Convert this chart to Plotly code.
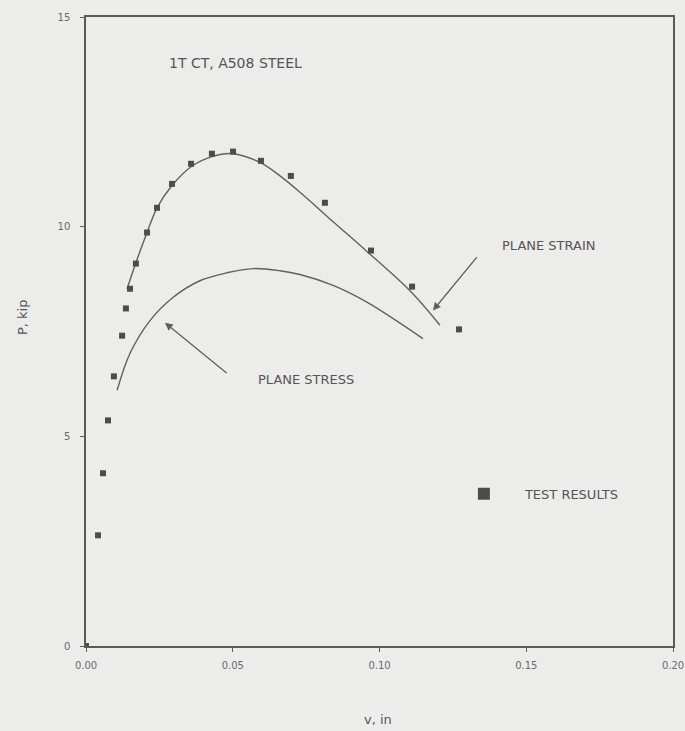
import plotly.graph_objects as go

# Test results: load-line displacement v (in) vs load P (kip)
test_v = [0.0, 0.0041, 0.0058, 0.0075, 0.0095, 0.0123, 0.0136, 0.0150, 0.0170,
          0.0208, 0.0242, 0.0293, 0.0358, 0.0429, 0.0501, 0.0596, 0.0698,
          0.0814, 0.0971, 0.1111, 0.1271]
test_p = [0.0, 2.64, 4.12, 5.38, 6.43, 7.40, 8.05, 8.52, 9.12,
          9.86, 10.45, 11.02, 11.50, 11.74, 11.79, 11.57, 11.21,
          10.57, 9.43, 8.57, 7.55]

# Plane-strain prediction
strain_v = [0.0140, 0.0170, 0.0208, 0.0242, 0.0293, 0.0358, 0.0429, 0.0501,
            0.0596, 0.0661, 0.0729, 0.0845, 0.0957, 0.1104, 0.1206]
strain_p = [8.52, 9.14, 9.86, 10.45, 10.98, 11.43, 11.67, 11.74,
            11.52, 11.21, 10.82, 10.10, 9.41, 8.47, 7.65]

# Plane-stress prediction
stress_v = [0.0106, 0.0150, 0.0218, 0.0296, 0.0388, 0.0480, 0.0569,
            0.0661, 0.0729, 0.0842, 0.0957, 0.1148]
stress_p = [6.10, 6.98, 7.76, 8.31, 8.71, 8.90, 9.00,
            8.95, 8.86, 8.60, 8.20, 7.33]

x_ticks = [0.0, 0.05, 0.10, 0.15, 0.20]
x_tick_text = ["0.00", "0.05", "0.10", "0.15", "0.20"]
y_ticks = [0, 5, 10, 15]

FONT = "DejaVu Sans, Liberation Sans, sans-serif"
INK = "#555555"
BG = "#ececea"
CURVE = "#606060"

fig = go.Figure()

fig.add_trace(go.Scatter(x=strain_v, y=strain_p, mode="lines",
                         line=dict(color=CURVE, width=1.4, shape="spline", smoothing=1.0),
                         showlegend=False, hoverinfo="skip"))
fig.add_trace(go.Scatter(x=stress_v, y=stress_p, mode="lines",
                         line=dict(color=CURVE, width=1.4, shape="spline", smoothing=1.0),
                         showlegend=False, hoverinfo="skip"))
fig.add_trace(go.Scatter(x=test_v, y=test_p, mode="markers", name="TEST RESULTS",
                         marker=dict(symbol="square", size=6, color="#4c4c4c")))

annotations = [
    dict(x=0.0276, y=13.9, text="1T CT, A508 STEEL", xanchor="left", yanchor="middle",
         showarrow=False, font=dict(size=14, color=INK, family=FONT)),
    dict(x=0.1412, y=9.55, text="PLANE STRAIN", xanchor="left", yanchor="middle",
         showarrow=False, font=dict(size=13, color=INK, family=FONT)),
    dict(x=0.0579, y=6.36, text="PLANE STRESS", xanchor="left", yanchor="middle",
         showarrow=False, font=dict(size=13, color=INK, family=FONT)),
    # pointer arrows
    dict(x=0.1182, y=8.0, ax=0.1336, ay=9.31, axref="x", ayref="y", text="",
         showarrow=True, arrowhead=2, arrowsize=1.2, arrowwidth=1.3, arrowcolor=CURVE),
    dict(x=0.0269, y=7.71, ax=0.0484, ay=6.48, axref="x", ayref="y", text="",
         showarrow=True, arrowhead=2, arrowsize=1.2, arrowwidth=1.3, arrowcolor=CURVE),
    # axis titles
    dict(x=-0.109, y=0.523, xref="paper", yref="paper", text="P, kip", textangle=-90,
         xanchor="center", yanchor="middle",
         showarrow=False, font=dict(size=13, color=INK, family=FONT)),
    dict(x=0.497, y=-0.117, xref="paper", yref="paper", text="v, in",
         xanchor="center", yanchor="middle",
         showarrow=False, font=dict(size=13, color=INK, family=FONT)),
]

axis_common = dict(showgrid=False, zeroline=False, showline=True, mirror=True,
                   linecolor="#5a5a5a", linewidth=1.5, ticks="outside", ticklen=4,
                   tickcolor="#5a5a5a", automargin=False,
                   tickfont=dict(size=10, color="#6a6a6a", family=FONT))

fig.update_layout(
    width=685, height=731,
    margin=dict(l=86, r=12, t=17, b=85),
    paper_bgcolor=BG, plot_bgcolor=BG,
    xaxis=dict(range=[0, 0.20], tickvals=x_ticks, ticktext=x_tick_text,
               ticklabelstandoff=5, **axis_common),
    yaxis=dict(range=[0, 15], tickvals=y_ticks, ticklabelstandoff=8, **axis_common),
    showlegend=True,
    legend=dict(x=0.608, y=0.242, xanchor="left", yanchor="middle",
                bgcolor="rgba(0,0,0,0)", font=dict(size=13, color=INK, family=FONT),
                itemsizing="constant", itemwidth=72),
    annotations=annotations,
)

fig.write_html("out.html")
